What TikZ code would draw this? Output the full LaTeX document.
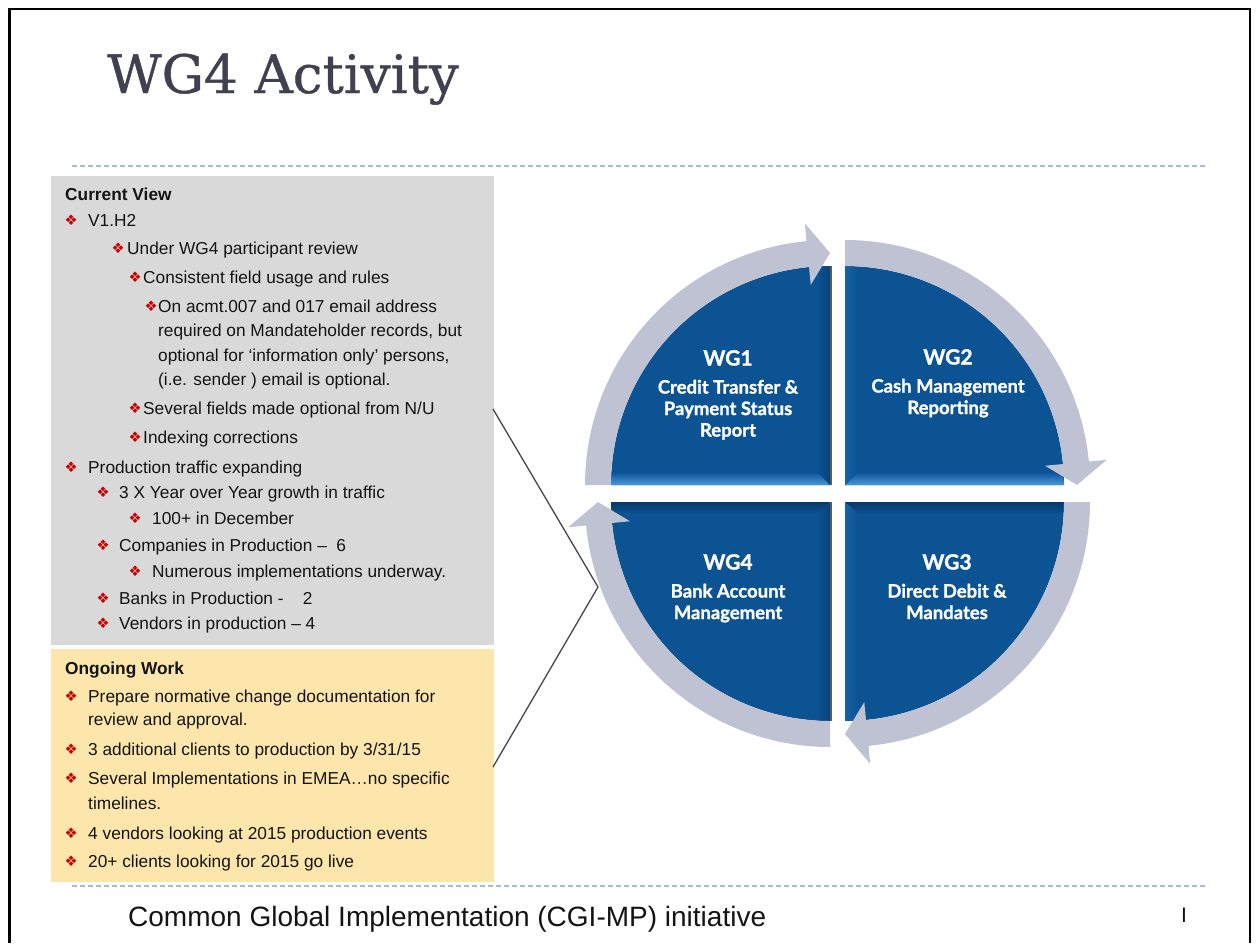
\documentclass[tikz,border=0pt]{standalone}
\usepackage{fontspec}
\setmainfont{Liberation Sans}
\newfontfamily\titlefont{DejaVu Serif}[FakeBold=0.8]
\newfontfamily\symfont{DejaVu Sans}
\newfontfamily\wgfont{Lato}[BoldFeatures={FakeBold=1.2}]
\usetikzlibrary{calc}
\definecolor{wgblue}{RGB}{12,83,148}
\definecolor{wglight}{RGB}{75,150,220}
\definecolor{wgdark}{RGB}{6,58,108}
\definecolor{wgmid}{RGB}{8,66,122}
\definecolor{wgmid2}{RGB}{22,98,168}
\definecolor{ringgray}{RGB}{190,194,210}
\definecolor{panelgray}{RGB}{217,217,217}
\definecolor{panelyellow}{RGB}{252,230,172}
\definecolor{bulletred}{RGB}{200,0,0}
\definecolor{dashblue}{RGB}{165,185,210}
\definecolor{titlegray}{RGB}{64,64,80}
\definecolor{edgegray}{RGB}{90,90,95}
\definecolor{conngray}{RGB}{70,70,80}
\definecolor{textblack}{RGB}{20,20,20}
\newcommand\bline[5]{%
  \node[bul] (#1b) at (#2,#4) {❖};
  \node[txt] (#1) at (#3,{#4+6}) {#5};}
\begin{document}
\begin{tikzpicture}[x=1pt,y=-1pt,
  txt/.style={anchor=base west, inner sep=0, text=textblack, font=\fontsize{17.3}{20}\selectfont},
  hdr/.style={txt, font=\fontsize{17.3}{20}\selectfont\bfseries},
  bul/.style={inner sep=0, text=bulletred, font=\symfont\fontsize{14.5}{14.5}\selectfont},
  wglab/.style={anchor=north, inner sep=0, text=white, align=center, font=\wgfont\bfseries\fontsize{18.5}{21.5}\selectfont},
  conn/.style={draw=conngray, line width=1.3pt},
  dashline/.style={draw=dashblue, line width=1.2pt, dash pattern=on 5pt off 3pt}]
\path[use as bounding box, fill=white] (0,0) rectangle (1256,943);
% frame
\draw[black, line width=2.5pt] (9.5,943) -- (9.5,9) -- (1250,9) -- (1250,943);
% title
\node[anchor=base west, inner sep=0, text=titlegray, font=\titlefont\fontsize{53}{53}\selectfont] (title) at (107,93) {WG4 Activity};
% dashed rules
\draw[dashline] (72,166) -- (1208,166);
\draw[dashline] (72,886) -- (1208,886);
% panels
\fill[panelgray] (51,176) rectangle (494,645);
\fill[panelyellow] (51,649) rectangle (494,882);
% quadrants
\foreach \cx/\cy/\s in {830/485/180, 845/485/270, 845/502/0, 830/502/90} {
  \fill[wgblue] (\cx,\cy) -- plot[domain=\s:\s+90, samples=61, variable=\t] ({\cx+219*cos(\t)},{\cy+219*sin(\t)}) -- cycle;
}
% bevels
\shade[top color=wgblue, bottom color=wglight] (611,472) -- (817,472) -- (830,485) -- (611,485) -- cycle;
\shade[left color=wgblue, right color=wgmid] (817,472) -- (817,268) -- (830,266) -- (830,485) -- cycle;
\shade[top color=wgblue, bottom color=wglight] (858,472) -- (1063,472) -- (1064,485) -- (845,485) -- cycle;
\shade[left color=wgmid2, right color=wgblue] (845,266) -- (858,267) -- (858,472) -- (845,485) -- cycle;
\shade[top color=wgdark, bottom color=wgblue] (845,502) -- (1064,502) -- (1063,514) -- (858,514) -- cycle;
\shade[top color=wgdark, bottom color=wgblue] (611,502) -- (830,502) -- (817,514) -- (612,514) -- cycle;
\shade[left color=wgblue, right color=wgmid] (817,514) -- (830,502) -- (830,721) -- (817,720.6) -- cycle;
\shade[left color=wgmid2, right color=wgblue] (845,502) -- (858,514) -- (858,720.6) -- (845,721) -- cycle;
\draw[edgegray, line width=1.5pt] (831,266) -- (831,485);
\draw[edgegray, line width=1.5pt] (831,502) -- (831,721);
% ring arrows
\foreach \cx/\cy/\s in {830/485/180, 845/485/270, 845/502/0, 830/502/90} {
  \fill[ringgray] plot[domain=\s:\s+84.5, samples=60, variable=\t] ({\cx+245*cos(\t)},{\cy+245*sin(\t)})
    -- ({\cx+263*cos(\s+84.5)},{\cy+263*sin(\s+84.5)})
    -- ({\cx+232*cos(\s+90)},{\cy+232*sin(\s+90)})
    -- ({\cx+201*cos(\s+84.5)},{\cy+201*sin(\s+84.5)})
    -- plot[domain=\s+84.5:\s, samples=60, variable=\t] ({\cx+219*cos(\t)},{\cy+219*sin(\t)}) -- cycle;
}
% quadrant labels
\node[wglab] (wg1) at (728,350) {{\fontsize{21}{21}\selectfont WG1}\\[6.5pt]Credit Transfer \&\\Payment Status\\Report};
\node[wglab] (wg2) at (948,349) {{\fontsize{21}{21}\selectfont WG2}\\[6.5pt]Cash Management\\Reporting};
\node[wglab] (wg4) at (728,554) {{\fontsize{21}{21}\selectfont WG4}\\[6.5pt]Bank Account\\Management};
\node[wglab] (wg3) at (947,554) {{\fontsize{21}{21}\selectfont WG3}\\[6.5pt]Direct Debit \&\\Mandates};
% current view text
\node[hdr] (cvh) at (65,200) {Current View};
\bline{l1}{71}{88}{220}{V1.H2}
\bline{l2}{118}{127}{248}{Under WG4 participant review}
\bline{l3}{135}{143}{277}{Consistent field usage and rules}
\bline{l4}{151}{158}{306}{On acmt.007 and 017 email address}
\node[txt] (l4b) at (158,336) {required on Mandateholder records, but};
\node[txt] (l4c) at (158,361) {optional for ‘information only’ persons,};
\node[txt] (l4d) at (158,385) {(i.e. sender ) email is optional.};
\bline{l5}{135}{143}{408}{Several fields made optional from N/U}
\bline{l6}{135}{143}{437}{Indexing corrections}
\bline{l7}{71}{88}{467}{Production traffic expanding}
\bline{l8}{103}{119}{492}{3 X Year over Year growth in traffic}
\bline{l9}{135}{152}{518}{100+ in December}
\bline{l10}{103}{119}{545}{Companies in Production –\ \ 6}
\bline{l11}{135}{152}{571}{Numerous implementations underway.}
\bline{l12}{103}{119}{598}{Banks in Production -\ \ \ \ 2}
\bline{l13}{103}{119}{623}{Vendors in production – 4}
% ongoing work text
\node[hdr] (owh) at (65,674) {Ongoing Work};
\bline{o1}{71}{88}{696}{Prepare normative change documentation for}
\node[txt] (o1b) at (88,725) {review and approval.};
\bline{o2}{71}{88}{749}{3 additional clients to production by 3/31/15}
\bline{o3}{71}{88}{778}{Several Implementations in EMEA…no specific}
\node[txt] (o3b) at (88,809) {timelines.};
\bline{o4}{71}{88}{833}{4 vendors looking at 2015 production events}
\bline{o5}{71}{88}{861}{20+ clients looking for 2015 go live}
% connectors
\coordinate (cvpt) at (493,409);
\coordinate (owpt) at (493,767);
\coordinate (wg4pt) at (598,587);
\draw[conn] (cvpt) -- (wg4pt) -- (owpt);
% footer
\node[anchor=base west, inner sep=0, text=textblack, font=\fontsize{28}{28}\selectfont] (foot) at (128,926) {Common Global Implementation (CGI-MP) initiative};
\node[anchor=base, inner sep=0, text=textblack, font=\fontsize{21}{21}\selectfont] (pg) at (1184,922) {I};
\end{tikzpicture}
\end{document}
